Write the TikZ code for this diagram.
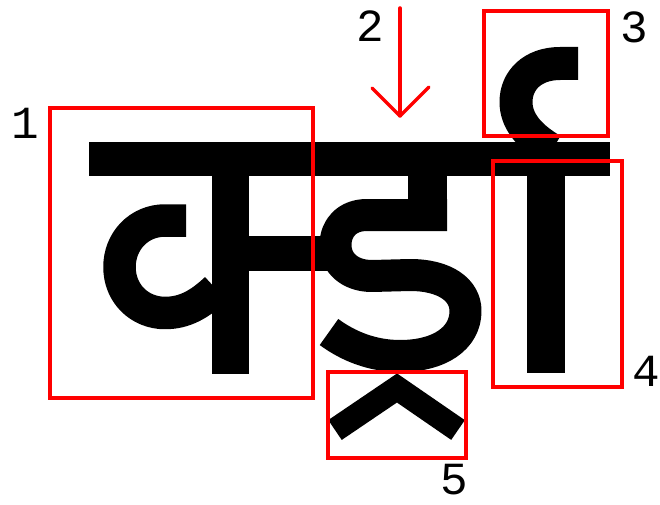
\documentclass[tikz,border=0pt]{standalone}
\usepackage{fontspec}
\newfontfamily\labelfont{Liberation Mono}
\begin{document}
\begin{tikzpicture}[x=1pt,y=-1pt,
  glyph/.style={draw=black,line cap=butt,line join=round},
  part/.style={draw=red,line width=3.5pt,fill=none,inner sep=0pt,outer sep=0pt},
  num/.style={font=\labelfont\fontsize{46}{46}\selectfont,inner sep=0pt,text=black},
  pointer/.style={draw=red,line width=3.5pt,line cap=round,line join=round}]
\useasboundingbox (0,0) rectangle (660,505);
% headline
\fill[black] (89,142.5) rectangle (610,176);
% ka: stem, arm, loop
\fill[black] (212,170) rectangle (249,374);
\fill[black] (245,236) rectangle (332,271);
\draw[glyph,line width=32.5pt] (186,220.5) -- (165,220.5)
  .. controls (139,220.5) and (119.5,241) .. (119.5,267)
  .. controls (119.5,294) and (140,313) .. (165,313)
  .. controls (185,313) and (200,304) .. (216,289);
% dda
\fill[black] (408,170) rectangle (447,230);
\draw[glyph,line width=32pt] (447,215) -- (367,215)
  .. controls (347,215) and (335.5,228) .. (335.5,245)
  .. controls (335.5,263) and (350,276) .. (372,276) -- (410,275)
  .. controls (445,275) and (465.5,290) .. (465.5,311)
  .. controls (465.5,338) and (440,356) .. (400,356)
  .. controls (372,356) and (348,346) .. (329,332);
% halant
\draw[black,line width=24pt,line join=miter,line cap=butt] (335,430) -- (397,388) -- (458,430);
% ii sign: hook and stem
\draw[glyph,line width=33pt] (578,63.5) -- (560,63.5)
  .. controls (533,63.5) and (516,80) .. (516,102)
  .. controls (516,120) and (528,136) .. (552,150);
\fill[black] (527,170) rectangle (565,373);
% part boxes
\node[part,minimum width=263pt,minimum height=290pt] (b1) at (181.5,253) {};
\node[part,minimum width=124pt,minimum height=125pt] (b3) at (546,73.5) {};
\node[part,minimum width=129pt,minimum height=226pt] (b4) at (557.5,274) {};
\node[part,minimum width=138pt,minimum height=86pt] (b5) at (397,415) {};
% arrow 2
\coordinate (atop) at (400,8);
\coordinate (atip) at (400,116);
\coordinate (aleft) at (372,88);
\coordinate (aright) at (429,87);
\draw[pointer] (atop) -- (atip);
\draw[pointer] (aleft) -- (atip) -- (aright);
% labels
\node[num] (l1) at (25,123) {1};
\node[num] (l2) at (370,26) {2};
\node[num] (l3) at (634,27.5) {3};
\node[num] (l4) at (646,371) {4};
\node[num] (l5) at (454,480) {5};
\end{tikzpicture}
\end{document}
